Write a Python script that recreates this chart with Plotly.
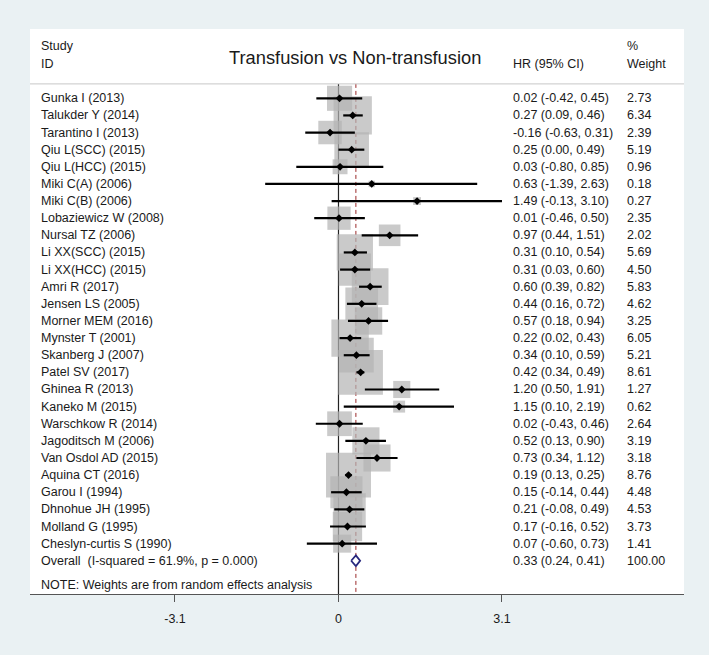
import plotly.graph_objects as go
import numpy as np

studies = [
    "Gunka I (2013)", "Talukder Y (2014)", "Tarantino I (2013)", "Qiu L(SCC) (2015)",
    "Qiu L(HCC) (2015)", "Miki C(A) (2006)", "Miki C(B) (2006)", "Lobaziewicz W (2008)",
    "Nursal TZ (2006)", "Li XX(SCC) (2015)", "Li XX(HCC) (2015)", "Amri R (2017)",
    "Jensen LS (2005)", "Morner MEM (2016)", "Mynster T (2001)", "Skanberg J (2007)",
    "Patel SV (2017)", "Ghinea R (2013)", "Kaneko M (2015)", "Warschkow R (2014)",
    "Jagoditsch M (2006)", "Van Osdol AD (2015)", "Aquina CT (2016)", "Garou I (1994)",
    "Dhnohue JH (1995)", "Molland G (1995)", "Cheslyn-curtis S (1990)",
]
hr = [0.02, 0.27, -0.16, 0.25, 0.03, 0.63, 1.49, 0.01, 0.97, 0.31, 0.31, 0.60, 0.44, 0.57,
      0.22, 0.34, 0.42, 1.20, 1.15, 0.02, 0.52, 0.73, 0.19, 0.15, 0.21, 0.17, 0.07]
lci = [-0.42, 0.09, -0.63, 0.00, -0.80, -1.39, -0.13, -0.46, 0.44, 0.10, 0.03, 0.39, 0.16, 0.18,
       0.02, 0.10, 0.34, 0.50, 0.10, -0.43, 0.13, 0.34, 0.13, -0.14, -0.08, -0.16, -0.60]
uci = [0.45, 0.46, 0.31, 0.49, 0.85, 2.63, 3.10, 0.50, 1.51, 0.54, 0.60, 0.82, 0.72, 0.94,
       0.43, 0.59, 0.49, 1.91, 2.19, 0.46, 0.90, 1.12, 0.25, 0.44, 0.49, 0.52, 0.73]
weight = [2.73, 6.34, 2.39, 5.19, 0.96, 0.18, 0.27, 2.35, 2.02, 5.69, 4.50, 5.83, 4.62, 3.25,
          6.05, 5.21, 8.61, 1.27, 0.62, 2.64, 3.19, 3.18, 8.76, 4.48, 4.53, 3.73, 1.41]

overall_label = "Overall&nbsp; (I-squared = 61.9%, p = 0.000)"
overall_hr, overall_lci, overall_uci, overall_weight = 0.33, 0.24, 0.41, 100.00
note_text = "NOTE: Weights are from random effects analysis"
title_text = "Transfusion vs Non-transfusion"
tick_vals = [-3.1, 0, 3.1]
tick_text = ["-3.1", "0", "3.1"]

FONT = "Liberation Sans, Arial, sans-serif"
TXT = "#1a1a1a"
FS = 12.5

n = len(studies)
rows = list(range(n))
overall_row = n
note_row = n + 1.43
sep_row = -0.84
y_top, y_bot = -4.045, 28.94
x_lo, x_hi = -5.849, 6.551

box_sizes = [15.2 * np.sqrt(w) for w in weight]

fig = go.Figure()
fig.add_trace(go.Scatter(
    x=hr, y=rows, mode="markers", hoverinfo="skip",
    marker=dict(symbol="square", size=box_sizes, color="#b4b4b4", line=dict(width=0)),
))
fig.add_trace(go.Scatter(
    x=hr, y=rows, mode="markers", hoverinfo="skip",
    error_x=dict(type="data", symmetric=False,
                 array=[u - h for u, h in zip(uci, hr)],
                 arrayminus=[h - l for h, l in zip(hr, lci)],
                 color="black", thickness=2.2, width=0),
    marker=dict(symbol="diamond", size=6, color="black"),
))
dh = 0.31
fig.add_trace(go.Scatter(
    x=[overall_lci, overall_hr, overall_uci, overall_hr, overall_lci],
    y=[overall_row, overall_row - dh, overall_row, overall_row + dh, overall_row],
    mode="lines", hoverinfo="skip", fill="toself", fillcolor="white",
    line=dict(color="#27277d", width=1.8),
))

shapes = [
    dict(type="line", xref="paper", x0=0, x1=1, yref="y", y0=sep_row, y1=sep_row,
         line=dict(color="#c8c8c8", width=1)),
    dict(type="line", xref="x", x0=0, x1=0, yref="y", y0=sep_row, y1=y_bot,
         line=dict(color="#222", width=1.2), layer="below"),
    dict(type="line", xref="x", x0=overall_hr, x1=overall_hr, yref="y", y0=sep_row, y1=y_bot,
         line=dict(color="#9a2a2a", width=1, dash="4px,3px"), layer="below"),
]

W0, PW = 30, 654
def px(p):
    return (p - W0) / PW

ann = []
def add(text, xp, y, size=FS, anchor="left"):
    ann.append(dict(text=text, xref="paper", x=px(xp), yref="y", y=y, xanchor=anchor,
                    yanchor="middle", showarrow=False, borderpad=0,
                    font=dict(family=FONT, size=size, color=TXT)))

add("Study", 39.5, -3.05)
add("ID", 39.5, -2.0)
add(title_text, 354.5, -2.38, size=18.3, anchor="center")
add("HR (95% CI)", 511.5, -2.0)
add("%", 625.5, -3.05)
add("Weight", 625.5, -2.0)

for i in range(n):
    add(studies[i], 39.5, rows[i])
    add(f"{hr[i]:.2f} ({lci[i]:.2f}, {uci[i]:.2f})", 511.5, rows[i])
    add(f"{weight[i]:.2f}", 625.5, rows[i])
add(overall_label, 39.5, overall_row)
add(f"{overall_hr:.2f} ({overall_lci:.2f}, {overall_uci:.2f})", 511.5, overall_row)
add(f"{overall_weight:.2f}", 625.5, overall_row)
add(note_text, 39.5, note_row)

fig.update_layout(
    width=709, height=655,
    margin=dict(l=30, r=25, t=29, b=61),
    paper_bgcolor="#eaf1f3", plot_bgcolor="white",
    showlegend=False, shapes=shapes, annotations=ann,
    font=dict(family=FONT, size=FS, color=TXT),
)
fig.update_xaxes(range=[x_lo, x_hi], tickvals=tick_vals, ticktext=tick_text,
                 showgrid=False, zeroline=False, showline=True, linecolor="#555",
                 linewidth=1, ticks="outside", ticklen=7, tickcolor="#555",
                 tickfont=dict(family=FONT, size=FS, color=TXT), ticklabelstandoff=6,
                 fixedrange=True)
fig.update_yaxes(range=[y_bot, y_top], showgrid=False, zeroline=False, showline=False,
                 showticklabels=False, ticks="", fixedrange=True)

fig.write_html("out.html", config={"displayModeBar": False},
               post_script="document.body.style.margin='0';document.body.style.overflow='hidden';")
